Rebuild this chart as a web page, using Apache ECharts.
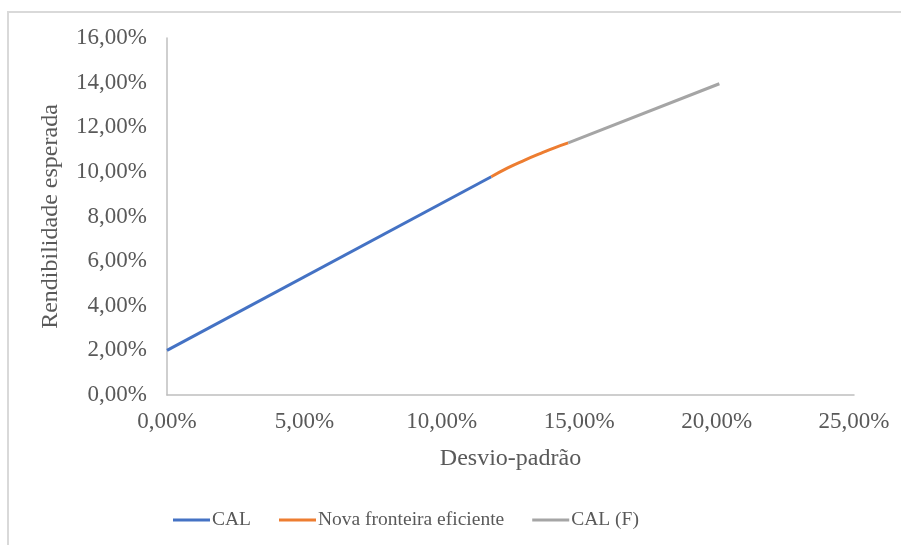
<!DOCTYPE html>
<html>
<head>
<meta charset="utf-8">
<script src="https://cdn.jsdelivr.net/npm/echarts@6/dist/echarts.min.js"></script>
<style>html,body{margin:0;padding:0;background:#fff}#c{width:901px;height:545px}</style>
</head>
<body>
<div id="c"></div>
<script>
// Values in percent (x = desvio-padrão, y = rendibilidade esperada)
const seriesNames = ['CAL', 'Nova fronteira eficiente', 'CAL (F)'];
const calData = [[0, 2.0], [11.8, 9.78]];
const fronteiraData = [[11.8, 9.78], [12.4, 10.18], [13.0, 10.52], [13.6, 10.83], [14.1, 11.08], [14.6, 11.3]];
const calFData = [[14.6, 11.3], [20.1, 13.95]];
const xTicks = [0, 5, 10, 15, 20, 25];
const yTicks = [0, 2, 4, 6, 8, 10, 12, 14, 16];

const fmt = v => v.toFixed(2).replace('.', ',') + '%';
const font = '"Liberation Serif", "Times New Roman", serif';
const txt = '#595959';

const chart = echarts.init(document.getElementById('c'));
chart.setOption({
  animation: false,
  backgroundColor: '#fff',
  graphic: [{
    type: 'rect', shape: {x: 8, y: 12, width: 905, height: 600},
    style: {fill: 'none', stroke: '#d9d9d9', lineWidth: 2}, silent: true, z: -1
  }],
  grid: {left: 167, right: 47, top: 38, bottom: 150, containLabel: false},
  xAxis: {
    type: 'value', min: xTicks[0], max: xTicks[xTicks.length - 1], interval: 5,
    name: 'Desvio-padrão', nameLocation: 'middle', nameGap: 52,
    nameTextStyle: {fontFamily: font, fontSize: 24, color: txt},
    axisLine: {lineStyle: {color: '#bfbfbf', width: 1.5}},
    axisTick: {show: false}, splitLine: {show: false},
    axisLabel: {formatter: fmt, fontFamily: font, fontSize: 23, color: txt, margin: 15}
  },
  yAxis: {
    type: 'value', min: yTicks[0], max: yTicks[yTicks.length - 1], interval: 2,
    name: 'Rendibilidade esperada', nameLocation: 'middle', nameGap: 104,
    nameTextStyle: {fontFamily: font, fontSize: 24, color: txt},
    axisLine: {show: true, lineStyle: {color: '#bfbfbf', width: 1.5}},
    axisTick: {show: false}, splitLine: {show: false},
    axisLabel: {formatter: fmt, fontFamily: font, fontSize: 23, color: txt, margin: 20}
  },
  legend: {
    bottom: 10, left: 168, itemGap: 28, itemWidth: 37, itemHeight: 3, icon: 'rect',
    textStyle: {fontFamily: font, fontSize: 19.5, color: txt, padding: [0, 0, 0, -3]},
    data: seriesNames
  },
  series: [
    {name: seriesNames[0], type: 'line', data: calData, showSymbol: false, color: '#4472c4', lineStyle: {width: 3, color: '#4472c4'}},
    {name: seriesNames[1], type: 'line', data: fronteiraData, smooth: true, showSymbol: false, color: '#ed7d31', lineStyle: {width: 3, color: '#ed7d31'}},
    {name: seriesNames[2], type: 'line', data: calFData, showSymbol: false, color: '#a5a5a5', lineStyle: {width: 3, color: '#a5a5a5'}}
  ]
});
</script>
</body>
</html>
